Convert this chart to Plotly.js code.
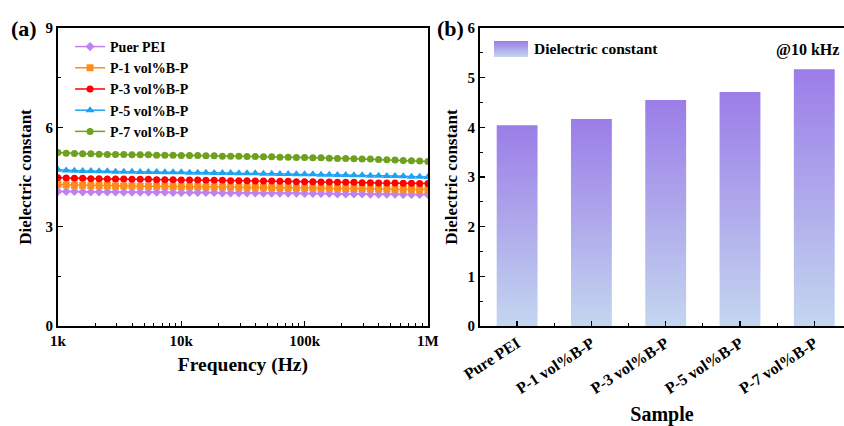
<!DOCTYPE html>
<html><head><meta charset="utf-8">
<script src="https://cdn.plot.ly/plotly-3.0.1.min.js"></script>
<style>html,body{margin:0;padding:0;background:#fff}#chart{width:844px;height:426px}</style>
</head><body><div id="chart"></div>
<script>
// ---------- Panel (a) data ----------
const freq = [1000,1166,1359,1585,1848,2154,2512,2929,3415,3981,4642,5412,6310,7356,8577,10000,11659,13594,15849,18478,21544,25119,29286,34146,39811,46416,54117,63096,73564,85770,100000,116591,135936,158489,184785,215443,251189,292864,341455,398107,464159,541170,630957,735642,857696,1000000];
const pure = [4.06,4.06,4.06,4.05,4.05,4.05,4.05,4.05,4.04,4.04, 4.04,4.04,4.04,4.04,4.03,4.03,4.03,4.03,4.03,4.03, 4.02,4.02,4.02,4.02,4.02,4.01,4.01,4.01,4.01,4.01, 4.00,4.00,4.00,4.00,3.99,3.99,3.99,3.99,3.98,3.98, 3.98,3.98,3.97,3.97,3.97,3.97];
const p1 = [4.27,4.26,4.25,4.25,4.24,4.24,4.24,4.23,4.23,4.23, 4.22,4.22,4.22,4.22,4.21,4.21,4.21,4.21,4.20,4.20, 4.20,4.20,4.19,4.19,4.19,4.19,4.18,4.18,4.18,4.17, 4.17,4.17,4.16,4.16,4.16,4.15,4.15,4.15,4.14,4.14, 4.14,4.13,4.13,4.13,4.12,4.12];
const p3 = [4.48,4.47,4.46,4.46,4.45,4.45,4.44,4.44,4.44,4.43, 4.43,4.43,4.42,4.42,4.42,4.41,4.41,4.41,4.40,4.40, 4.40,4.39,4.39,4.39,4.38,4.38,4.38,4.37,4.37,4.36, 4.36,4.36,4.35,4.35,4.34,4.34,4.34,4.33,4.33,4.32, 4.32,4.32,4.31,4.31,4.30,4.30];
const p5 = [4.72,4.70,4.69,4.68,4.68,4.67,4.67,4.66,4.66,4.66, 4.65,4.65,4.65,4.64,4.64,4.64,4.63,4.63,4.63,4.62, 4.62,4.62,4.61,4.61,4.61,4.60,4.60,4.59,4.59,4.58, 4.58,4.58,4.57,4.57,4.56,4.56,4.55,4.55,4.54,4.54, 4.53,4.53,4.52,4.51,4.51,4.50];
const p7 = [5.24,5.22,5.21,5.20,5.20,5.19,5.18,5.18,5.18,5.17, 5.17,5.17,5.16,5.16,5.16,5.15,5.15,5.15,5.14,5.14, 5.13,5.13,5.13,5.12,5.12,5.11,5.11,5.10,5.10,5.09, 5.09,5.08,5.08,5.07,5.06,5.06,5.05,5.04,5.04,5.03, 5.02,5.01,5.00,4.99,4.98,4.97];
const seriesNames = ['Puer PEI','P-1 vol%B-P','P-3 vol%B-P','P-5 vol%B-P','P-7 vol%B-P'];
const seriesVals = [pure,p1,p3,p5,p7];
const seriesColors = ['#bf80f2','#ff8c1a','#ff0000','#1ca3f2','#6fa01e'];
const seriesSymbols = ['diamond','square','circle','triangle-up','circle'];
const freqTickVals = [1000,10000,100000,1000000];
const freqTickText = ['1k','10k','100k','1M'];

// ---------- Panel (b) data ----------
const samples = ['Pure PEI','P-1 vol%B-P','P-3 vol%B-P','P-5 vol%B-P','P-7 vol%B-P'];
const dielectric10k = [4.04,4.17,4.55,4.71,5.17];
const barLegendName = 'Dielectric constant';

const serif = 'Liberation Serif, Times New Roman, serif';
const gradTop = '#9b7de8', gradBottom = '#c3d6ef';
const traces = [];
seriesVals.forEach((v,i)=>{
  traces.push({
    x: freq, y: v, type:'scatter', mode:'lines+markers', name: seriesNames[i],
    xaxis:'x', yaxis:'y', legend:'legend',
    line:{color:seriesColors[i], width:1.5},
    marker:{color:seriesColors[i], symbol:seriesSymbols[i], size: seriesSymbols[i]==='triangle-up'?8:7}
  });
});
const hw = 0.275;
dielectric10k.forEach((v,i)=>{
  traces.push({
    x:[i-hw,i+hw,i+hw,i-hw,i-hw], y:[0,0,v,v,0], type:'scatter', mode:'lines',
    fill:'toself', line:{width:0, color:'rgba(0,0,0,0)'},
    fillgradient:{type:'vertical', start:0, stop:v, colorscale:[[0,gradBottom],[1,gradTop]]},
    name:barLegendName, showlegend:false,
    xaxis:'x2', yaxis:'y2', hoverinfo:'skip'
  });
});

const tickFont = {family:serif, size:15, color:'#000', weight:'bold'};
const titleFont = {family:serif, size:19.5, color:'#000', weight:'bold'};
const ytitleFont = {family:serif, size:17, color:'#000', weight:'bold'};
const minorLog = [];
[1000,10000,100000].forEach(d=>{for(let k=2;k<=9;k++) minorLog.push(d*k);});

const patchSvg = '<svg xmlns="http://www.w3.org/2000/svg" width="34" height="16"><defs><linearGradient id="g" x1="0" y1="0" x2="0" y2="1"><stop offset="0" stop-color="'+gradTop+'"/><stop offset="1" stop-color="'+gradBottom+'"/></linearGradient></defs><rect width="34" height="16" fill="url(#g)"/></svg>';
const patchUri = 'data:image/svg+xml;base64,' + btoa(patchSvg);

const layout = {
  width:844, height:426,
  margin:{l:0,r:0,t:28,b:100},
  paper_bgcolor:'#fff', plot_bgcolor:'#fff',
  showlegend:true,
  xaxis:{domain:[0.0687,0.507], type:'log', range:[3,6], tickmode:'array', tickvals:freqTickVals, ticktext:freqTickText,
    ticks:'inside', ticklen:5, tickwidth:1.5, tickcolor:'#000', showline:true, linecolor:'#000', linewidth:2, mirror:true,
    showgrid:false, zeroline:false, tickfont:tickFont,
    minor:{tickmode:'array', tickvals:minorLog, ticks:'inside', ticklen:3, tickwidth:1, tickcolor:'#000', showgrid:false},
    title:{text:'Frequency (Hz)', font:titleFont, standoff:9}},
  yaxis:{domain:[0,1], range:[0,9], tickmode:'linear', tick0:0, dtick:3, ticks:'inside', ticklen:5, tickwidth:1.5, tickcolor:'#000',
    showline:true, linecolor:'#000', linewidth:2, mirror:true, showgrid:false, zeroline:false, tickfont:tickFont,
    minor:{dtick:1.5, ticks:'inside', ticklen:3, tickwidth:1, tickcolor:'#000', showgrid:false},
    title:{text:'Dielectric constant', font:ytitleFont, standoff:10}},
  xaxis2:{domain:[0.5687,1], anchor:'y2', range:[-0.5,4.4], tickmode:'array', tickvals:[0,1,2,3,4], ticktext:samples, tickangle:-33,
    ticks:'inside', ticklen:5, tickwidth:1.5, tickcolor:'#000', showline:true, linecolor:'#000', linewidth:2, mirror:true,
    showgrid:false, zeroline:false, tickfont:{family:serif, size:16, color:'#000', weight:'bold'},
    minor:{tickmode:'array', tickvals:[-0.5,0.5,1.5,2.5,3.5], ticks:'inside', ticklen:3, tickwidth:1, tickcolor:'#000', showgrid:false},
    title:{text:'Sample', font:{family:serif,size:20,color:'#000',weight:'bold'}, standoff:16}},
  yaxis2:{domain:[0,1], anchor:'x2', range:[0,6], tickmode:'linear', tick0:0, dtick:1, ticks:'inside', ticklen:5, tickwidth:1.5, tickcolor:'#000',
    showline:true, linecolor:'#000', linewidth:2, mirror:true, showgrid:false, zeroline:false, tickfont:tickFont,
    minor:{dtick:0.5, ticks:'inside', ticklen:3, tickwidth:1, tickcolor:'#000', showgrid:false},
    title:{text:'Dielectric constant', font:ytitleFont, standoff:6}},
  legend:{x:0.083, y:0.99, xanchor:'left', yanchor:'top', bgcolor:'rgba(0,0,0,0)', font:{family:serif,size:14,color:'#000',weight:'bold'},
    tracegroupgap:0, itemwidth:30},
  images:[{source:patchUri, xref:'paper', yref:'paper', x:494/844, y:(426-100-41)/298, sizex:34/844, sizey:16/298, xanchor:'left', yanchor:'top', sizing:'stretch', layer:'above'}],
  annotations:[
    {text:barLegendName, xref:'paper', yref:'paper', x:532/844, y:(326-49)/298, xanchor:'left', yanchor:'middle', showarrow:false, font:{family:serif,size:15.5,color:'#000',weight:'bold'}},
    {text:'(a)', xref:'paper', yref:'paper', x:0.011, y:1.0, xanchor:'left', yanchor:'middle', showarrow:false, font:{family:serif,size:22,color:'#000',weight:'bold'}},
    {text:'(b)', xref:'paper', yref:'paper', x:0.515, y:1.0, xanchor:'left', yanchor:'middle', showarrow:false, font:{family:serif,size:22,color:'#000',weight:'bold'}},
    {text:'@10 kHz', xref:'paper', yref:'paper', x:0.997, y:(326-50)/298, xanchor:'right', yanchor:'middle', showarrow:false, font:{family:serif,size:16,color:'#000',weight:'bold'}}
  ]
};
Plotly.newPlot('chart', traces, layout, {displayModeBar:false, staticPlot:true});
</script></body></html>
